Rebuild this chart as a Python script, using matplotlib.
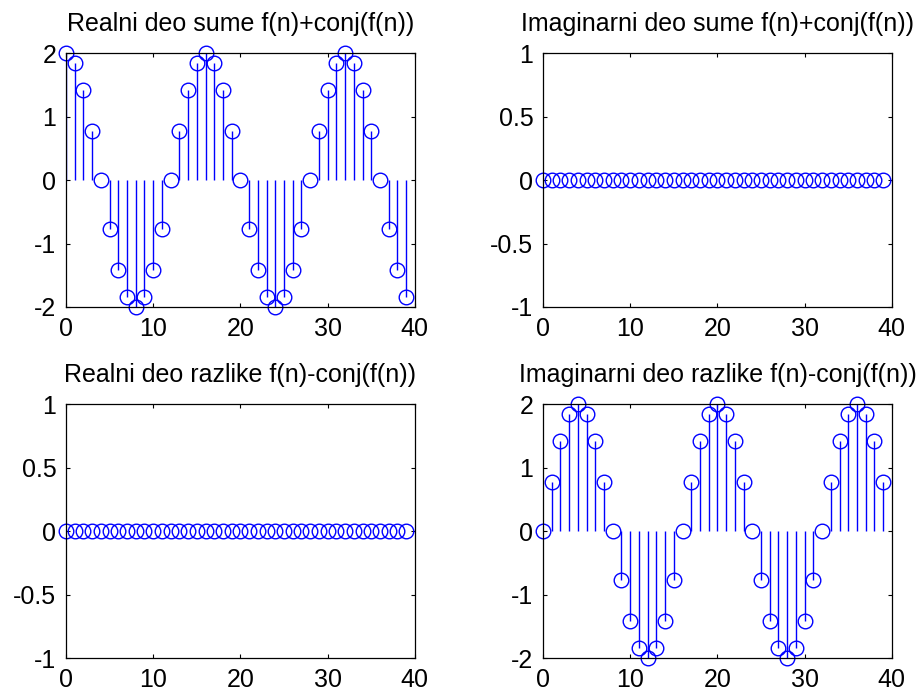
import numpy as np
import matplotlib
matplotlib.use("Agg")
import matplotlib.pyplot as plt

plt.rcParams['font.family'] = ['Liberation Sans', 'DejaVu Sans']
plt.rcParams['axes.unicode_minus'] = False

# uzorci n = 0..39
n = list(range(40))

# realni deo sume f(n)+conj(f(n))
real_suma = [2.0, 1.848, 1.414, 0.765, 0.0, -0.765, -1.414, -1.848,
             -2.0, -1.848, -1.414, -0.765, 0.0, 0.765, 1.414, 1.848,
             2.0, 1.848, 1.414, 0.765, 0.0, -0.765, -1.414, -1.848,
             -2.0, -1.848, -1.414, -0.765, 0.0, 0.765, 1.414, 1.848,
             2.0, 1.848, 1.414, 0.765, 0.0, -0.765, -1.414, -1.848]

# imaginarni deo sume
imag_suma = [0, 0, 0, 0, 0, 0, 0, 0, 0, 0, 0, 0, 0, 0, 0, 0, 0, 0, 0, 0,
             0, 0, 0, 0, 0, 0, 0, 0, 0, 0, 0, 0, 0, 0, 0, 0, 0, 0, 0, 0]

# realni deo razlike
real_razlika = [0, 0, 0, 0, 0, 0, 0, 0, 0, 0, 0, 0, 0, 0, 0, 0, 0, 0, 0, 0,
                0, 0, 0, 0, 0, 0, 0, 0, 0, 0, 0, 0, 0, 0, 0, 0, 0, 0, 0, 0]

# imaginarni deo razlike
imag_razlika = [0.0, 0.765, 1.414, 1.848, 2.0, 1.848, 1.414, 0.765,
                0.0, -0.765, -1.414, -1.848, -2.0, -1.848, -1.414, -0.765,
                0.0, 0.765, 1.414, 1.848, 2.0, 1.848, 1.414, 0.765,
                0.0, -0.765, -1.414, -1.848, -2.0, -1.848, -1.414, -0.765,
                0.0, 0.765, 1.414, 1.848, 2.0, 1.848, 1.414, 0.765]

naslovi = ['Realni deo sume f(n)+conj(f(n))',
           'Imaginarni deo sume f(n)+conj(f(n))',
           'Realni deo razlike f(n)-conj(f(n))',
           'Imaginarni deo razlike f(n)-conj(f(n))']

fig = plt.figure(figsize=(9.18, 6.93), dpi=100)

pozicije = [[0.0719, 0.557, 0.380, 0.3665],
            [0.5915, 0.557, 0.380, 0.3665],
            [0.0719, 0.0505, 0.380, 0.3665],
            [0.5915, 0.0505, 0.380, 0.3665]]

podaci = [real_suma, imag_suma, real_razlika, imag_razlika]

for pos, y, naslov in zip(pozicije, podaci, naslovi):
    ax = fig.add_axes(pos)
    ml, sl, bl = ax.stem(n, y, basefmt=' ')
    sl.set_color('blue')
    sl.set_linewidth(1.0)
    ml.set_color('blue')
    ml.set_markerfacecolor('none')
    ml.set_markersize(10.5)
    ml.set_markeredgewidth(1.0)
    ml.set_clip_on(False)
    ax.set_xlim(0, 40)
    ax.set_xticks([0, 10, 20, 30, 40])
    if max(np.abs(y)) > 0:
        ax.set_ylim(-2, 2)
        ax.set_yticks([-2, -1, 0, 1, 2])
    else:
        ax.set_ylim(-1, 1)
        ax.set_yticks([-1, -0.5, 0, 0.5, 1])
        ax.set_yticklabels(['-1', '-0.5', '0', '0.5', '1'])
    ax.tick_params(direction='in', top=True, right=True, labelsize=18,
                   length=3, width=0.8, pad=7)
    for s in ax.spines.values():
        s.set_linewidth(0.9)
    ax.set_title(naslov, fontsize=18, pad=15.5)

plt.savefig('out.png', dpi=100)
